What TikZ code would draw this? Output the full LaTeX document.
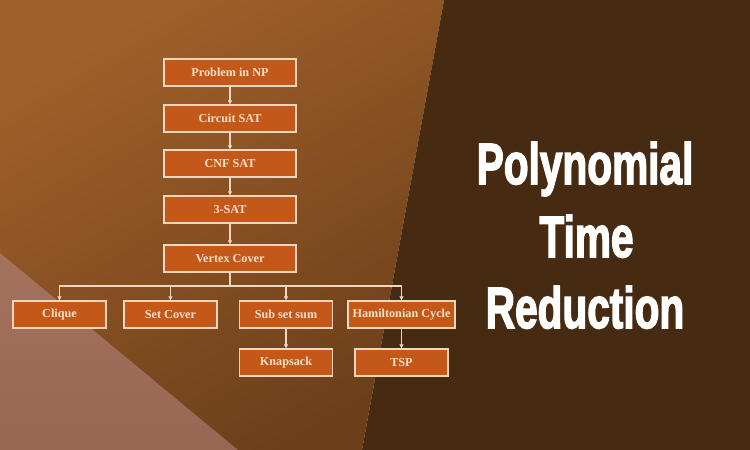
\documentclass[tikz,border=0pt]{standalone}
\usepackage{fontspec}
\setmainfont{Liberation Serif}
\newfontfamily\titlefont{Liberation Sans}[BoldFeatures={FakeBold=3}]
\usetikzlibrary{arrows.meta,shadings}
\definecolor{bgTL}{RGB}{160,96,42}
\definecolor{bgBR}{RGB}{108,63,26}
\definecolor{darkbg}{RGB}{70,42,17}
\definecolor{pinkbg}{RGB}{165,114,94}
\definecolor{pinkbgD}{RGB}{152,102,82}
\definecolor{boxfill}{RGB}{196,88,24}
\definecolor{boxline}{RGB}{240,214,190}
\definecolor{boxtext}{RGB}{248,224,204}
\tikzset{
  probbox/.style={draw=boxline, line width=1.3pt, fill=boxfill, minimum width=132pt, minimum height=27pt, inner sep=0pt, text=boxtext, font=\bfseries\fontsize{12.2}{13}\selectfont},
  leafbox/.style={probbox, minimum width=93pt},
  conn/.style={draw=boxline, line width=1.1pt, -{Triangle[width=4pt,length=4pt]}},
  titletext/.style={text=white, font=\titlefont\bfseries\fontsize{58}{60}\selectfont, inner sep=0pt}
}
\begin{document}
\begin{tikzpicture}[x=1pt,y=-1pt]
\useasboundingbox (0,0) rectangle (750,450);
% background
\shade[shading=axis, top color=bgTL, bottom color=bgBR, shading angle=30] (0,0) -- (444,0) -- (362,450) -- (0,450) -- cycle;
\fill[darkbg] (444,0) -- (750,0) -- (750,450) -- (362,450) -- cycle;
\shade[top color=pinkbg, bottom color=pinkbgD] (0,253) -- (238,450) -- (0,450) -- cycle;
% nodes
\node[probbox] (np) at (230,72.5) {Problem in NP};
\node[probbox] (circ) at (230,118.5) {Circuit SAT};
\node[probbox] (cnf) at (230,163.5) {CNF SAT};
\node[probbox] (sat3) at (230,209.5) {3-SAT};
\node[probbox] (vc) at (230,258.5) {Vertex Cover};
\node[leafbox] (clique) at (59.5,314.5) {Clique};
\node[leafbox] (setc) at (170.5,314.5) {Set Cover};
\node[leafbox] (subset) at (286,314.5) {Sub set sum};
\node[leafbox, minimum width=107pt] (ham) at (401.5,314.5) {Hamiltonian Cycle};
\node[leafbox] (knap) at (286,362.5) {Knapsack};
\node[leafbox] (tsp) at (401.5,362.5) {TSP};
\coordinate (split) at (230,286);
% connectors
\draw[conn] (np) -- (circ);
\draw[conn] (circ) -- (cnf);
\draw[conn] (cnf) -- (sat3);
\draw[conn] (sat3) -- (vc);
\draw[draw=boxline, line width=1.1pt] (vc.south) -- (split);
\draw[conn] (split) -| (clique.north);
\draw[conn] (split) -| (setc.north);
\draw[conn] (split) -| (subset.north);
\draw[conn] (split) -| (ham.north);
\draw[conn] (subset) -- (knap);
\draw[conn] (ham) -- (tsp);
% title
\node[titletext, anchor=base] (t1) at (585,184) {\scalebox{0.7}[1]{Polynomial}};
\node[titletext, anchor=base] (t2) at (586.5,257) {\scalebox{0.7}[1]{Time}};
\node[titletext, anchor=base] (t3) at (585,328) {\scalebox{0.7}[1]{Reduction}};
\end{tikzpicture}
\end{document}
